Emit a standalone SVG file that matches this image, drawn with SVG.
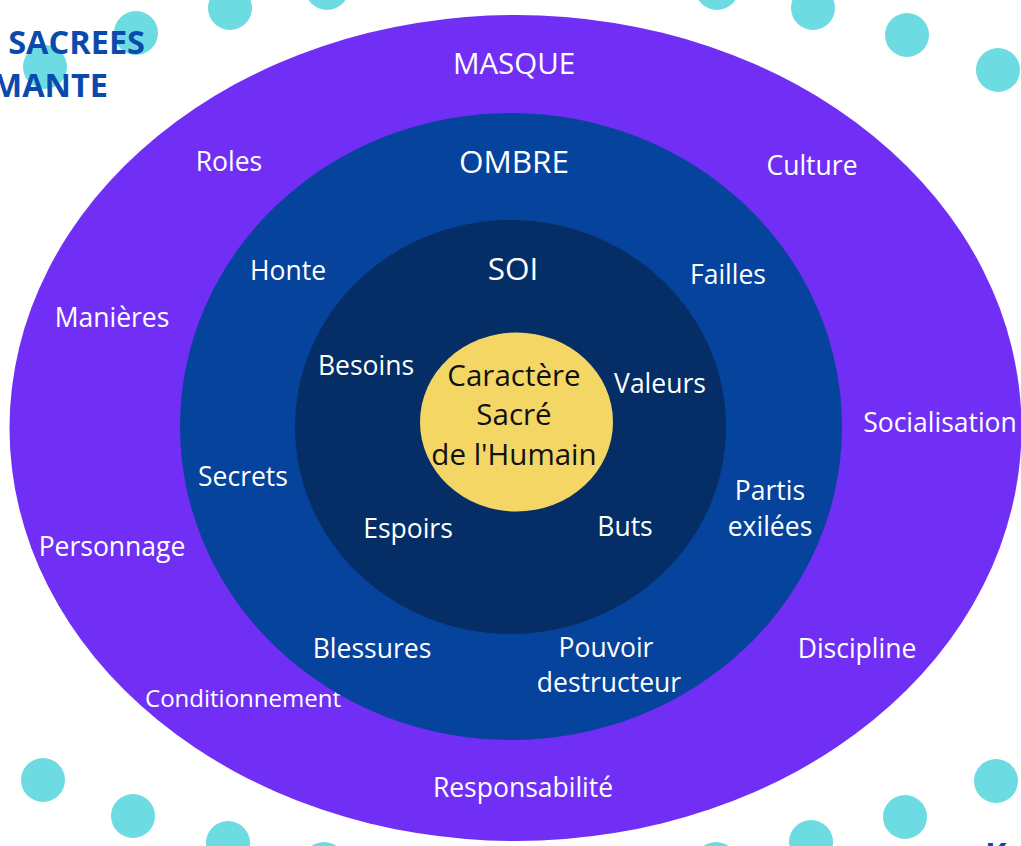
<svg xmlns="http://www.w3.org/2000/svg" width="1021" height="846" viewBox="0 0 1021 846">
<style>
.dot{fill:#6cdce2}
.lbl{font-family:"Open Sans","Liberation Sans",sans-serif;font-size:26.5px;fill:#ffffff;text-anchor:middle}
.big{font-size:31.5px}
.core{font-family:"Open Sans","Liberation Sans",sans-serif;font-size:29.5px;fill:#111111;text-anchor:middle}
.title{font-family:"Open Sans","Liberation Sans",sans-serif;font-weight:bold;font-size:32.5px;fill:#0b4aad}
</style>
<rect width="1021" height="846" fill="#ffffff"/>
<g id="dots">
<circle class="dot" cx="230" cy="8" r="22"/>
<circle class="dot" cx="327" cy="-12" r="22"/>
<circle class="dot" cx="136" cy="33" r="22"/>
<circle class="dot" cx="45" cy="67" r="22"/>
<circle class="dot" cx="717" cy="-12" r="22"/>
<circle class="dot" cx="813" cy="8" r="22"/>
<circle class="dot" cx="907" cy="35" r="22"/>
<circle class="dot" cx="998" cy="70" r="22"/>
<circle class="dot" cx="43" cy="780" r="22"/>
<circle class="dot" cx="133" cy="816" r="22"/>
<circle class="dot" cx="228" cy="843" r="22"/>
<circle class="dot" cx="324" cy="864" r="22"/>
<circle class="dot" cx="716" cy="864" r="22"/>
<circle class="dot" cx="811" cy="842" r="22"/>
<circle class="dot" cx="905" cy="817" r="22"/>
<circle class="dot" cx="996" cy="781" r="22"/>
</g>
<g id="title">
<text class="title" x="145" y="54" text-anchor="end">S SACREES</text>
<text class="title" x="108" y="97" text-anchor="end">MANTE</text>
<text class="title" x="985" y="866">K</text>
</g>
<g id="masque">
<ellipse cx="515.5" cy="428" rx="506" ry="413" fill="#712ff5"/>
<text class="lbl" x="514" y="74" style="font-size:29.5px">MASQUE</text>
<text class="lbl" x="229" y="171">Roles</text>
<text class="lbl" x="812" y="175">Culture</text>
<text class="lbl" x="112" y="327">Manières</text>
<text class="lbl" x="940" y="432">Socialisation</text>
<text class="lbl" x="112" y="556">Personnage</text>
<text class="lbl" x="857" y="658">Discipline</text>
<text class="lbl" x="243" y="707" style="font-size:24px">Conditionnement</text>
<text class="lbl" x="523" y="797">Responsabilité</text>
</g>
<g id="ombre">
<ellipse cx="511" cy="426.5" rx="331" ry="313.5" fill="#06439c"/>
<text class="lbl big" x="514" y="173">OMBRE</text>
<text class="lbl" x="288" y="280">Honte</text>
<text class="lbl" x="728" y="284">Failles</text>
<text class="lbl" x="243" y="486">Secrets</text>
<text class="lbl" x="770" y="500">Partis</text>
<text class="lbl" x="770" y="536">exilées</text>
<text class="lbl" x="372" y="658">Blessures</text>
<text class="lbl" x="606" y="657">Pouvoir</text>
<text class="lbl" x="609" y="692">destructeur</text>
</g>
<g id="soi">
<ellipse cx="510.5" cy="427" rx="215.5" ry="207" fill="#052e66"/>
<text class="lbl big" x="513" y="280">SOI</text>
<text class="lbl" x="366" y="375">Besoins</text>
<text class="lbl" x="660" y="393">Valeurs</text>
<text class="lbl" x="408" y="538">Espoirs</text>
<text class="lbl" x="625" y="536">Buts</text>
</g>
<g id="caractere">
<ellipse cx="516.5" cy="422" rx="96.5" ry="89.5" fill="#f4d665"/>
<text class="core" x="514" y="386">Caractère</text>
<text class="core" x="514" y="425">Sacré</text>
<text class="core" x="514" y="465">de l'Humain</text>
</g>
<g id="connectors"></g>
</svg>
